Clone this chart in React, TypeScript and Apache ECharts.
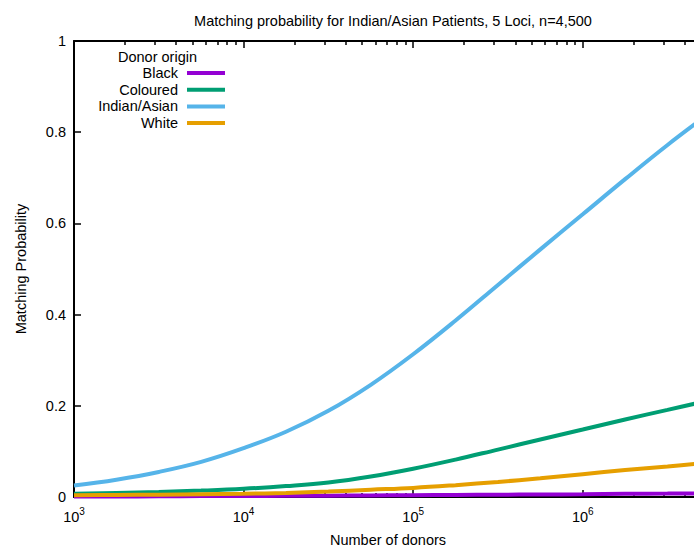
import React, { useEffect, useRef } from "react";
import * as echarts from "echarts";

const donors = [1000, 1778, 3162, 5623, 10000, 17783, 31623, 56234, 100000, 177828, 316228, 562341, 1000000, 1778279, 3162278, 5623413];
const seriesNames = ["Black", "Coloured", "Indian/Asian", "White"];
const black = [0.001, 0.001, 0.0015, 0.002, 0.002, 0.0025, 0.003, 0.0035, 0.004, 0.0045, 0.005, 0.0055, 0.006, 0.007, 0.0075, 0.008];
const coloured = [0.007, 0.009, 0.011, 0.014, 0.018, 0.024, 0.032, 0.045, 0.062, 0.082, 0.104, 0.126, 0.148, 0.17, 0.191, 0.212];
const indianAsian = [0.025, 0.038, 0.055, 0.077, 0.107, 0.143, 0.189, 0.246, 0.313, 0.387, 0.465, 0.543, 0.62, 0.697, 0.772, 0.842];
const white = [0.004, 0.0045, 0.005, 0.006, 0.007, 0.009, 0.012, 0.016, 0.02, 0.026, 0.033, 0.041, 0.05, 0.059, 0.067, 0.076];
const yTicks = [0, 0.2, 0.4, 0.6, 0.8, 1];
const colors = ["#9400d3", "#009e73", "#56b4e9", "#e69f00"];

const X_MIN = 1000;
const X_MAX = 4530000;
const FONT = "Liberation Sans, Arial, sans-serif";
const FS = 14.5;

export default function App() {
  const ref = useRef<HTMLDivElement>(null);
  useEffect(() => {
    if (!ref.current) return;
    const chart = echarts.init(ref.current, undefined, { renderer: "svg" });
    const values = [black, coloured, indianAsian, white];
    const lmin = Math.log10(X_MIN);
    const lmax = Math.log10(X_MAX);
    const minors: number[] = [];
    for (let d = 3; d <= 6; d++) {
      for (let k = 2; k <= 9; k++) {
        const v = Math.log10(k) + d;
        if (v < lmax) minors.push(v);
      }
    }
    const majors: number[] = [];
    for (let d = 3; d <= 6; d++) majors.push(d);
    const axisLine = { show: true, lineStyle: { color: "#000", width: 2 } };
    const legendX = 178;
    const legendY0 = 73;
    const legendDy = 16.7;
    const graphic: any[] = [
      {
        type: "text",
        left: 118,
        top: 49,
        style: { text: "Donor origin", font: `${FS}px ${FONT}`, fill: "#000" },
      },
    ];
    seriesNames.forEach((n, i) => {
      const y = legendY0 + i * legendDy;
      graphic.push({
        type: "text",
        x: legendX,
        y,
        style: { text: n, font: `${FS}px ${FONT}`, fill: "#000", align: "right", verticalAlign: "middle" },
      });
      graphic.push({
        type: "line",
        shape: { x1: 187, y1: y, x2: 225, y2: y },
        style: { stroke: colors[i], lineWidth: 4 },
      });
    });
    const tickStyle = { color: "#000", width: 1.5 };
    chart.setOption({
      animation: false,
      backgroundColor: "#fff",
      textStyle: { fontFamily: FONT },
      title: {
        text: "Matching probability for Indian/Asian Patients, 5 Loci, n=4,500",
        left: 388,
        top: 8,
        textAlign: "center",
        textStyle: { fontSize: FS, fontWeight: "normal", color: "#000", fontFamily: FONT },
      },
      grid: { left: 74, top: 41, right: 0, bottom: 52, containLabel: false, outerBoundsMode: "none" },
      xAxis: [
        {
          type: "log",
          logBase: 10,
          min: X_MIN,
          max: X_MAX,
          position: "bottom",
          name: "Number of donors",
          nameLocation: "middle",
          nameGap: 35,
          nameTextStyle: { fontSize: FS, color: "#000", fontFamily: FONT, padding: [0, 0, 0, 8] },
          axisLine,
          axisTick: { show: false },
          minorTick: { show: false },
          splitLine: { show: false },
          axisLabel: {
            margin: 9,
            color: "#000",
            fontFamily: FONT,
            showMaxLabel: false,
            formatter: (v: number) => {
              const l = Math.log10(v);
              if (Math.abs(l - Math.round(l)) > 1e-6) return "";
              return `{b|10}{s|${Math.round(l)}}`;
            },
            rich: {
              b: { fontSize: FS, color: "#000", fontFamily: FONT, lineHeight: 18, verticalAlign: "bottom" },
              s: { fontSize: 10, color: "#000", fontFamily: FONT, lineHeight: 18, verticalAlign: "top", padding: [0, 0, 6, 0] },
            },
          },
        },
        {
          type: "log",
          logBase: 10,
          min: X_MIN,
          max: X_MAX,
          position: "top",
          axisLine,
          axisTick: { show: false },
          axisLabel: { show: false },
          splitLine: { show: false },
        },
        {
          type: "value",
          min: lmin,
          max: lmax,
          position: "top",
          axisLine: { show: false },
          axisTick: { show: true, inside: true, length: 4, customValues: minors, lineStyle: tickStyle },
          axisLabel: { show: false },
          splitLine: { show: false },
        },
        {
          type: "value",
          min: lmin,
          max: lmax,
          position: "bottom",
          axisLine: { show: false },
          axisTick: { show: true, inside: true, length: 4, customValues: minors, lineStyle: tickStyle },
          axisLabel: { show: false },
          splitLine: { show: false },
        },
        {
          type: "value",
          min: lmin,
          max: lmax,
          position: "top",
          axisLine: { show: false },
          axisTick: { show: true, inside: true, length: 7, customValues: majors, lineStyle: tickStyle },
          axisLabel: { show: false },
          splitLine: { show: false },
        },
        {
          type: "value",
          min: lmin,
          max: lmax,
          position: "bottom",
          axisLine: { show: false },
          axisTick: { show: true, inside: true, length: 7, customValues: majors, lineStyle: tickStyle },
          axisLabel: { show: false },
          splitLine: { show: false },
        },
      ],
      yAxis: {
        type: "value",
        min: 0,
        max: 1,
        interval: 0.2,
        name: "Matching Probability",
        nameLocation: "middle",
        nameGap: 46,
        nameTextStyle: { fontSize: FS, color: "#000", fontFamily: FONT },
        axisLine,
        axisTick: { show: true, inside: true, length: 7, customValues: yTicks, lineStyle: tickStyle },
        splitLine: { show: false },
        axisLabel: {
          margin: 8,
          fontSize: FS,
          color: "#000",
          fontFamily: FONT,
          formatter: (v: number) => String(Math.round(v * 10) / 10),
        },
      },
      graphic,
      series: values.map((vals, i) => ({
        name: seriesNames[i],
        type: "line",
        xAxisIndex: 0,
        yAxisIndex: 0,
        smooth: 0.4,
        showSymbol: false,
        symbol: "none",
        clip: true,
        lineStyle: { color: colors[i], width: 4 },
        itemStyle: { color: colors[i] },
        data: donors.map((d, j) => [d, vals[j]]),
      })),
    });
    return () => chart.dispose();
  }, []);
  return <div ref={ref} style={{ position: "fixed", left: 0, top: 0, width: 694, height: 549 }} />;
}
